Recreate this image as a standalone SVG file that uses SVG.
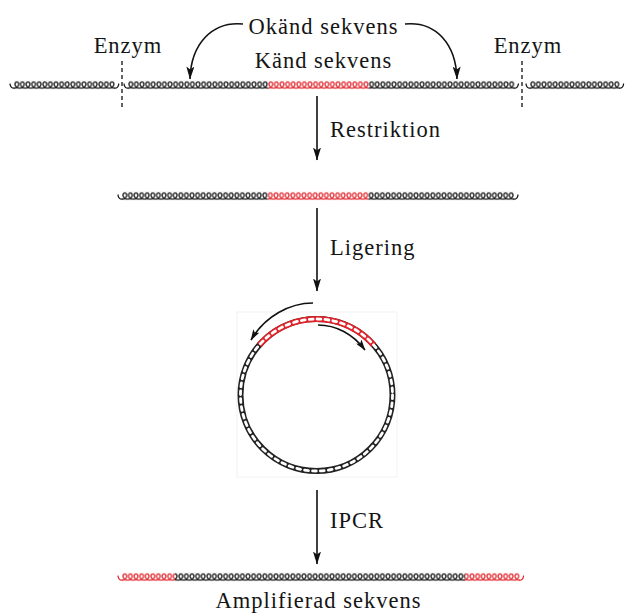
<svg xmlns="http://www.w3.org/2000/svg" width="625" height="614" viewBox="0 0 625 614">
  <style>
    .lbl { font-family: "Liberation Serif", "Times New Roman", serif; font-size: 22.5px; letter-spacing: 1px; fill: #151515; }
    .mid { text-anchor: middle; }
    .arrow { fill: none; stroke: #111; stroke-width: 1.6; }
    .cut { fill: none; stroke: #222; stroke-width: 1.4; stroke-dasharray: 4 3; }
    .tail { fill: none; stroke-width: 1.25; stroke-linecap: round; }
  </style>
  <defs>
    <!-- one turn of the helix, tiled horizontally -->
    <pattern id="coilK" patternUnits="userSpaceOnUse" x="0" y="-4.5" width="5.6" height="9">
      <polyline points="-2.067,7.271 0,7.7 2.067,7.271 3.705,6.1 4.6,4.5 4.638,2.9 3.934,1.729 2.8,1.3 1.667,1.729 0.962,2.9 1,4.5 1.895,6.1 3.533,7.271 5.6,7.7 7.667,7.271" fill="none" stroke="#111" stroke-width="1.25" stroke-linejoin="round"/>
    </pattern>
    <pattern id="coilR" patternUnits="userSpaceOnUse" x="0" y="-4.5" width="5.6" height="9">
      <polyline points="-2.067,7.271 0,7.7 2.067,7.271 3.705,6.1 4.6,4.5 4.638,2.9 3.934,1.729 2.8,1.3 1.667,1.729 0.962,2.9 1,4.5 1.895,6.1 3.533,7.271 5.6,7.7 7.667,7.271" fill="none" stroke="#e0232a" stroke-width="1.25" stroke-linejoin="round"/>
    </pattern>
    <marker id="head" viewBox="0 0 13 8" refX="12.5" refY="4" markerWidth="13" markerHeight="8" markerUnits="userSpaceOnUse" orient="auto">
      <path d="M0,0 L13,4 L0,8 L3,4 z" fill="#111"/>
    </marker>
    <marker id="headS" viewBox="0 0 11 7" refX="10.5" refY="3.5" markerWidth="11" markerHeight="7" markerUnits="userSpaceOnUse" orient="auto">
      <path d="M0,0 L11,3.5 L0,7 L2.5,3.5 z" fill="#111"/>
    </marker>
  </defs>

  <!-- genomic DNA with restriction sites -->
  <g id="dna-genomic">
    <g transform="translate(14,85)">
      <rect x="0" y="-4.5" width="100.8" height="9" fill="url(#coilK)"/>
      <path class="tail" stroke="#111" d="M-4,-1 Q-3.5,3.2 0,3.2"/>
      <path class="tail" stroke="#111" d="M100.8,3.2 Q104.3,3.2 104.8,-1"/>
    </g>
    <g transform="translate(128,85)">
      <rect x="0" y="-4.5" width="140" height="9" fill="url(#coilK)"/>
      <rect x="140" y="-4.5" width="100.8" height="9" fill="url(#coilR)"/>
      <rect x="240.8" y="-4.5" width="145.6" height="9" fill="url(#coilK)"/>
      <path class="tail" stroke="#111" d="M-4,-1 Q-3.5,3.2 0,3.2"/>
      <path class="tail" stroke="#111" d="M386.4,3.2 Q389.9,3.2 390.4,-1"/>
    </g>
    <g transform="translate(530,85)">
      <rect x="0" y="-4.5" width="89.6" height="9" fill="url(#coilK)"/>
      <path class="tail" stroke="#111" d="M-4,-1 Q-3.5,3.2 0,3.2"/>
      <path class="tail" stroke="#111" d="M89.6,3.2 Q93.1,3.2 93.6,-1"/>
    </g>
    <line class="cut" x1="122" y1="61" x2="122" y2="108"/>
    <line class="cut" x1="522" y1="61" x2="522" y2="108"/>
  </g>

  <g id="label-enzym-left"><text class="lbl mid" x="128" y="53">Enzym</text></g>
  <g id="label-enzym-right"><text class="lbl mid" x="528" y="53">Enzym</text></g>
  <g id="label-okand"><text class="lbl mid" x="323.5" y="34">Okänd sekvens</text></g>
  <g id="label-kand"><text class="lbl mid" x="323.5" y="68">Känd sekvens</text></g>

  <!-- restriction fragment -->
  <g id="dna-fragment" transform="translate(122,196)">
    <rect x="0" y="-4.5" width="145.6" height="9" fill="url(#coilK)"/>
    <rect x="145.6" y="-4.5" width="100.8" height="9" fill="url(#coilR)"/>
    <rect x="246.4" y="-4.5" width="145.6" height="9" fill="url(#coilK)"/>
    <path class="tail" stroke="#111" d="M-4,-1 Q-3.5,3.2 0,3.2"/>
    <path class="tail" stroke="#111" d="M392,3.2 Q395.5,3.2 396,-1"/>
  </g>

  <!-- circularised fragment: chain of links -->
  <g id="dna-circle">
    <rect x="237" y="312" width="160" height="165" fill="none" stroke="#f2f2f2" stroke-width="1"/>
    <circle cx="316.5" cy="395" r="76" fill="none" stroke="#222" stroke-width="6"/>
    <path d="M259.26,345 A76,76 0 0 1 373.74,345" fill="none" stroke="#e0232a" stroke-width="6"/>
    <circle cx="316.5" cy="395" r="76" fill="none" stroke="#fff" stroke-width="2.8" stroke-dasharray="3.8 4.16" stroke-linecap="round"/>
  </g>

  <!-- amplified product -->
  <g id="dna-amplified" transform="translate(122,577)">
    <rect x="0" y="-4.5" width="53" height="9" fill="url(#coilR)"/>
    <rect x="53" y="-4.5" width="290" height="9" fill="url(#coilK)"/>
    <rect x="343" y="-4.5" width="54.6" height="9" fill="url(#coilR)"/>
    <path class="tail" stroke="#e0232a" d="M-4,-1 Q-3.5,3.2 0,3.2"/>
    <path class="tail" stroke="#e0232a" d="M397.6,3.2 Q401.1,3.2 401.6,-1"/>
  </g>
  <g id="label-amplified"><text class="lbl mid" x="318.5" y="608">Amplifierad sekvens</text></g>

  <!-- connectors -->
  <g id="connectors">
    <path class="arrow" d="M243,24 C212,21 191,44 190,79" marker-end="url(#head)"/>
    <path class="arrow" d="M405,24 C436,21 456,44 457,79" marker-end="url(#head)"/>
    <line class="arrow" x1="317" y1="96" x2="317" y2="160" marker-end="url(#head)"/>
    <line class="arrow" x1="317" y1="208" x2="317" y2="291" marker-end="url(#head)"/>
    <line class="arrow" x1="317" y1="490" x2="317" y2="564" marker-end="url(#head)"/>
    <path class="arrow" d="M313,303 C290,303 265,316 251,340" marker-end="url(#headS)"/>
    <path class="arrow" d="M318,325 C336,325 353,334 365,350" marker-end="url(#headS)"/>
    <text class="lbl" x="330" y="137">Restriktion</text>
    <text class="lbl" x="330" y="255">Ligering</text>
    <text class="lbl" x="330" y="528">IPCR</text>
  </g>
</svg>
